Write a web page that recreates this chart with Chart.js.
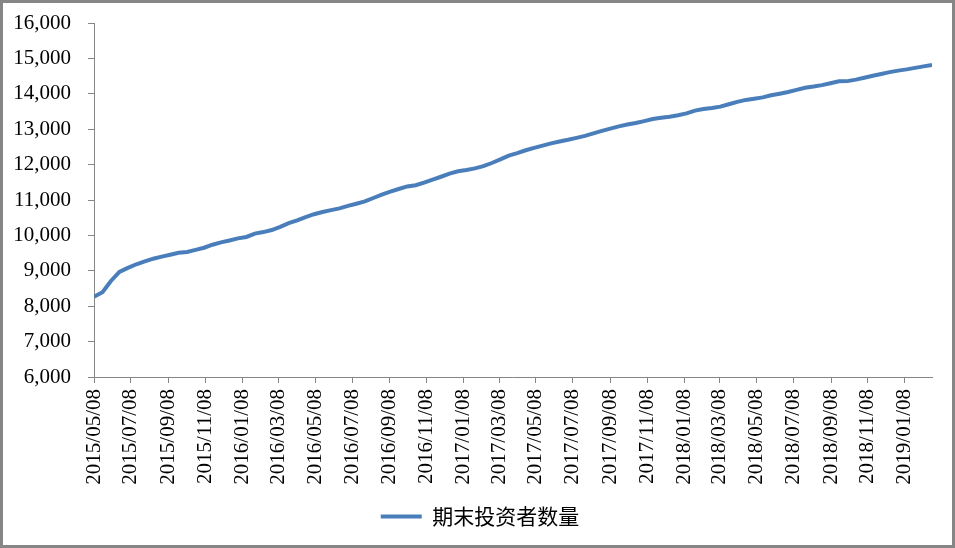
<!DOCTYPE html>
<html>
<head>
<meta charset="utf-8">
<script src="https://cdn.jsdelivr.net/npm/chart.js@4/dist/chart.umd.min.js"></script>
<style>
  html, body { margin: 0; padding: 0; background: #fff; }
  #wrap { width: 955px; height: 548px; }
</style>
</head>
<body>
<div id="wrap"><canvas id="investorChart" width="955" height="548"></canvas></div>
<script>
// weekly series sampled every two weeks, starting on the first date
const firstDate = '2015/05/08';
const stepDays = 14;
const investorCount = [
    8270, 8395, 8712, 8970, 9083, 9185, 9265, 9342, 9401, 9454,
    9508, 9532, 9590, 9652, 9737, 9804, 9855, 9916, 9956, 10052,
    10094, 10152, 10240, 10347, 10426, 10519, 10599, 10660, 10715, 10763,
    10833, 10895, 10961, 11057, 11153, 11236, 11311, 11383, 11416, 11493,
    11575, 11657, 11743, 11811, 11847, 11893, 11955, 12045, 12146, 12255,
    12325, 12405, 12473, 12537, 12601, 12653, 12700, 12754, 12811, 12883,
    12954, 13016, 13079, 13133, 13175, 13229, 13287, 13321, 13353, 13392,
    13447, 13526, 13570, 13600, 13638, 13706, 13771, 13827, 13862, 13898,
    13957, 14003, 14052, 14111, 14171, 14205, 14245, 14300, 14355, 14358,
    14400, 14455, 14509, 14560, 14612, 14655, 14690, 14732, 14775, 14815
];
const xTickLabels = [
    '2015/05/08', '2015/07/08', '2015/09/08', '2015/11/08',
    '2016/01/08', '2016/03/08', '2016/05/08', '2016/07/08', '2016/09/08', '2016/11/08',
    '2017/01/08', '2017/03/08', '2017/05/08', '2017/07/08', '2017/09/08', '2017/11/08',
    '2018/01/08', '2018/03/08', '2018/05/08', '2018/07/08', '2018/09/08', '2018/11/08',
    '2019/01/08'
];
const seriesName = '期末投资者数量';
const lineColor = '#4A7EBB';
const axisColor = '#868686';
const tickFont = { family: "'Times New Roman', 'Liberation Serif', serif", size: 21 };

function dayOffset(str) {
    const [y, m, d] = str.split('/').map(Number);
    const [y0, m0, d0] = firstDate.split('/').map(Number);
    return Math.round((Date.UTC(y, m - 1, d) - Date.UTC(y0, m0 - 1, d0)) / 86400000);
}

const points = investorCount.map((v, i) => ({ x: i * stepDays, y: v }));
const tickDays = xTickLabels.map(dayOffset);

const frame = {
    id: 'frame',
    afterLayout(chart) {
        // nudge the legend to sit under the middle of the frame
        chart.legend.left += 14;
        chart.legend.right += 14;
    },
    afterDraw(chart) {
        const c = chart.ctx;
        c.save();
        c.strokeStyle = axisColor;
        c.lineWidth = 3;
        c.strokeRect(1.5, 1.5, chart.width - 3, chart.height - 3);
        c.restore();
    }
};

new Chart(document.getElementById('investorChart').getContext('2d'), {
    type: 'line',
    data: {
        datasets: [{
            label: seriesName,
            data: points,
            borderColor: lineColor,
            backgroundColor: lineColor,
            borderWidth: 4,
            pointRadius: 0,
            tension: 0,
            fill: false
        }]
    },
    options: {
        responsive: false,
        animation: false,
        devicePixelRatio: 1,
        layout: { padding: { left: 0, right: 23, top: 23, bottom: 11 } },
        scales: {
            x: {
                type: 'linear',
                min: 0,
                max: (investorCount.length - 1) * stepDays,
                afterBuildTicks: scale => {
                    scale.ticks = tickDays.map(v => ({ value: v }));
                },
                afterFit: scale => {
                    scale.height = 119;
                    scale.paddingLeft = 0;
                    scale.paddingRight = 0;
                },
                grid: { display: true, drawOnChartArea: false, drawTicks: true, tickLength: 6, color: axisColor },
                border: { display: true, color: axisColor, width: 1 },
                ticks: {
                    autoSkip: false,
                    maxRotation: 90,
                    minRotation: 90,
                    padding: 6,
                    color: '#000',
                    font: tickFont,
                    callback: (value) => xTickLabels[tickDays.indexOf(value)] || ''
                }
            },
            y: {
                min: 6000,
                max: 16000,
                afterFit: scale => {
                    scale.width = 94;
                    scale.paddingTop = 0;
                    scale.paddingBottom = 0;
                },
                grid: { display: true, drawOnChartArea: false, drawTicks: true, tickLength: 6, color: axisColor },
                border: { display: true, color: axisColor, width: 1 },
                ticks: {
                    stepSize: 1000,
                    padding: 17,
                    color: '#000',
                    font: tickFont,
                    callback: value => value.toLocaleString('en-US')
                }
            }
        },
        plugins: {
            legend: {
                position: 'bottom',
                labels: {
                    usePointStyle: true,
                    pointStyle: 'line',
                    pointStyleWidth: 41,
                    color: '#000',
                    padding: 10,
                    font: { family: "'Noto Sans CJK SC', sans-serif", size: 21 }
                }
            },
            tooltip: { enabled: false }
        }
    },
    plugins: [frame]
});
</script>
</body>
</html>
